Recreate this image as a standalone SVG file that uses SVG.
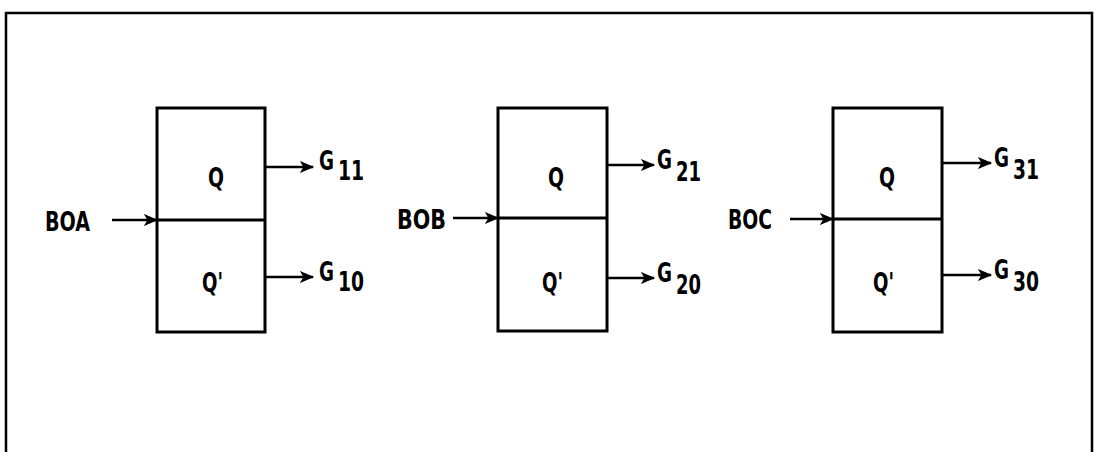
<svg xmlns="http://www.w3.org/2000/svg" width="1098" height="452" viewBox="0 0 1098 452">
<style>
.frame{fill:none;stroke:#000;stroke-width:2.5}
.box{fill:none;stroke:#000;stroke-width:3}
.wire{fill:none;stroke:#000;stroke-width:2.5}
text{font-family:"DejaVu Sans",sans-serif;font-stretch:condensed;font-weight:bold;font-size:26px;fill:#000}
</style>
<defs>
<marker id="ah" viewBox="0 0 12 10" refX="11" refY="5" markerWidth="15" markerHeight="12" orient="auto" markerUnits="userSpaceOnUse">
<path d="M0,0 L12,5 L0,10 L3,5 Z" fill="#000"/>
</marker>
</defs>
<rect width="1098" height="452" fill="#fff"/>
<path class="frame" d="M6,452 V13 H1092 V452"/>
<g id="ffA">
<rect class="box" x="157" y="108" width="108" height="224"/>
<line class="box" x1="157" y1="220" x2="265" y2="220"/>
<text x="208" y="187" textLength="16" lengthAdjust="spacingAndGlyphs">Q</text>
<text x="202" y="292" textLength="21" lengthAdjust="spacingAndGlyphs">Q'</text>
</g>
<g id="ffB">
<rect class="box" x="498" y="108" width="109" height="223"/>
<line class="box" x1="498" y1="218" x2="607" y2="218"/>
<text x="548" y="187" textLength="16" lengthAdjust="spacingAndGlyphs">Q</text>
<text x="542" y="292" textLength="21" lengthAdjust="spacingAndGlyphs">Q'</text>
</g>
<g id="ffC">
<rect class="box" x="833" y="108" width="109" height="224"/>
<line class="box" x1="833" y1="219" x2="942" y2="219"/>
<text x="879" y="187" textLength="16" lengthAdjust="spacingAndGlyphs">Q</text>
<text x="873" y="292" textLength="21" lengthAdjust="spacingAndGlyphs">Q'</text>
</g>
<g id="labels">
<text x="45" y="231" textLength="45" lengthAdjust="spacingAndGlyphs">BOA</text>
<text x="397" y="229" textLength="49" lengthAdjust="spacingAndGlyphs">BOB</text>
<text x="728" y="229" textLength="44" lengthAdjust="spacingAndGlyphs">BOC</text>
<text x="319" y="170" textLength="15" lengthAdjust="spacingAndGlyphs">G</text>
<text x="338" y="180" textLength="26" lengthAdjust="spacingAndGlyphs">11</text>
<text x="319" y="281" textLength="15" lengthAdjust="spacingAndGlyphs">G</text>
<text x="338" y="291" textLength="26" lengthAdjust="spacingAndGlyphs">10</text>
<text x="657" y="169" textLength="15" lengthAdjust="spacingAndGlyphs">G</text>
<text x="676" y="181" textLength="25" lengthAdjust="spacingAndGlyphs">21</text>
<text x="657" y="282" textLength="15" lengthAdjust="spacingAndGlyphs">G</text>
<text x="676" y="294" textLength="25" lengthAdjust="spacingAndGlyphs">20</text>
<text x="994" y="167" textLength="15" lengthAdjust="spacingAndGlyphs">G</text>
<text x="1013" y="179" textLength="26" lengthAdjust="spacingAndGlyphs">31</text>
<text x="994" y="279" textLength="15" lengthAdjust="spacingAndGlyphs">G</text>
<text x="1013" y="291" textLength="26" lengthAdjust="spacingAndGlyphs">30</text>
</g>
<g id="connectors">
<line class="wire" x1="112" y1="220" x2="157" y2="220" marker-end="url(#ah)"/>
<line class="wire" x1="453" y1="218" x2="498" y2="218" marker-end="url(#ah)"/>
<line class="wire" x1="790" y1="219" x2="833" y2="219" marker-end="url(#ah)"/>
<line class="wire" x1="265" y1="167" x2="313" y2="167" marker-end="url(#ah)"/>
<line class="wire" x1="265" y1="277" x2="313" y2="277" marker-end="url(#ah)"/>
<line class="wire" x1="607" y1="165" x2="654" y2="165" marker-end="url(#ah)"/>
<line class="wire" x1="607" y1="278" x2="654" y2="278" marker-end="url(#ah)"/>
<line class="wire" x1="942" y1="163" x2="991" y2="163" marker-end="url(#ah)"/>
<line class="wire" x1="942" y1="275" x2="991" y2="275" marker-end="url(#ah)"/>
</g>
</svg>
